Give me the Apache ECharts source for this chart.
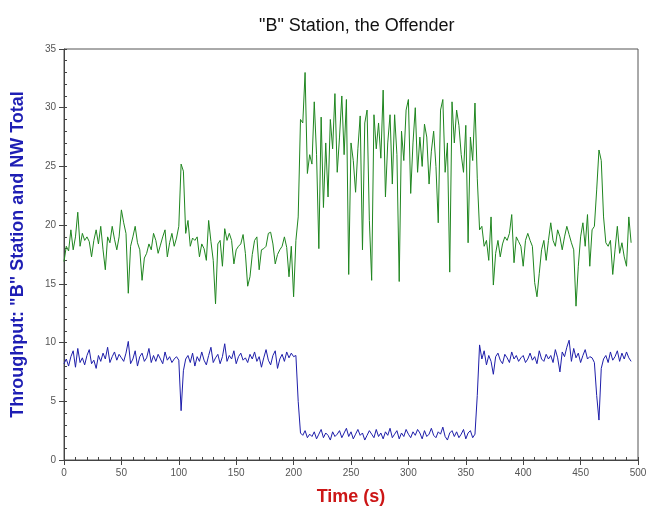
<!DOCTYPE html>
<html>
<head>
<meta charset="utf-8">
<script src="https://cdn.jsdelivr.net/npm/echarts@6/dist/echarts.min.js"></script>
<style>
html,body{margin:0;padding:0;background:#fff;}
#chart{width:651px;height:513px;}
</style>
</head>
<body>
<div id="chart"></div>
<script>
// Time (s)
var timeSec = [
  0,2,4,6,8,10,12,14,16,18,
  20,22,24,26,28,30,32,34,36,38,
  40,42,44,46,48,50,52,54,56,58,
  60,62,64,66,68,70,72,74,76,78,
  80,82,84,86,88,90,92,94,96,98,
  100,102,104,106,108,110,112,114,116,118,
  120,122,124,126,128,130,132,134,136,138,
  140,142,144,146,148,150,152,154,156,158,
  160,162,164,166,168,170,172,174,176,178,
  180,182,184,186,188,190,192,194,196,198,
  200,202,204,206,208,210,212,214,216,218,
  220,222,224,226,228,230,232,234,236,238,
  240,242,244,246,248,250,252,254,256,258,
  260,262,264,266,268,270,272,274,276,278,
  280,282,284,286,288,290,292,294,296,298,
  300,302,304,306,308,310,312,314,316,318,
  320,322,324,326,328,330,332,334,336,338,
  340,342,344,346,348,350,352,354,356,358,
  360,362,364,366,368,370,372,374,376,378,
  380,382,384,386,388,390,392,394,396,398,
  400,402,404,406,408,410,412,414,416,418,
  420,422,424,426,428,430,432,434,436,438,
  440,442,444,446,448,450,452,454,456,458,
  460,462,464,466,468,470,472,474,476,478,
  480,482,484,486,488,490,492,494
];

// NW Total throughput (green)
var nwTotal = [
  16.9,18.2,17.8,19.6,17.9,19.0,21.1,18.2,19.3,18.7,
  19.0,18.6,17.3,18.7,19.6,18.4,19.9,17.9,16.2,19.0,
  18.5,19.9,18.8,17.9,19.0,21.3,20.2,19.3,14.2,18.2,
  19.0,19.9,18.5,17.9,15.3,17.2,17.6,18.4,17.9,19.3,
  18.7,17.6,18.3,19.0,19.6,17.3,18.5,19.3,18.2,18.9,
  19.9,25.2,24.6,19.3,20.4,18.2,18.9,18.7,19.0,17.3,
  18.4,18.0,17.0,20.4,18.6,17.0,13.3,18.4,18.7,16.5,
  19.7,18.7,19.3,18.7,16.7,17.9,18.2,18.4,19.2,17.6,
  14.8,15.6,17.5,18.7,19.0,16.2,17.9,18.0,18.2,19.3,
  19.4,18.4,16.7,17.5,17.9,18.2,19.0,18.1,15.6,18.2,
  13.9,18.7,20.7,29.0,28.7,33.0,24.4,26.0,25.2,30.5,
  26.0,18.0,29.2,21.5,27.0,22.4,29.0,26.5,31.2,24.5,
  27.5,31.0,26.0,30.7,15.8,27.0,25.5,22.8,26.5,29.3,
  17.9,28.7,29.8,20.4,15.3,29.4,26.5,28.7,25.7,31.5,
  22.4,27.0,29.4,23.5,29.4,26.0,15.2,28.0,25.5,29.8,
  30.7,22.7,27.0,30.0,24.5,27.5,25.0,28.6,27.5,23.5,
  26.3,28.0,25.0,20.2,29.8,30.7,24.5,27.0,16.0,30.5,
  27.0,29.8,28.5,26.0,24.5,28.5,18.5,27.5,25.5,30.4,
  24.0,19.6,19.9,18.2,18.7,17.0,20.7,14.9,17.6,18.7,
  17.3,18.4,19.0,18.7,19.3,20.9,16.8,19.0,18.6,18.2,
  16.5,18.7,19.3,18.7,18.2,15.1,13.9,15.9,17.9,18.7,
  17.0,18.7,20.2,18.7,18.2,19.6,19.0,17.9,19.0,19.9,
  19.2,18.5,17.9,13.1,16.5,19.0,20.2,18.2,20.9,16.5,
  19.6,19.9,23.0,26.4,25.5,20.7,18.5,18.2,18.7,15.8,
  17.9,19.9,17.6,18.5,17.3,16.5,20.7,18.5
];

// "B" Station throughput (blue)
var bStation = [
  8.2,8.6,8.0,8.8,9.3,7.9,9.5,8.3,8.7,8.1,
  8.9,9.4,8.2,8.5,7.8,8.9,8.4,9.1,8.6,9.6,
  8.3,8.8,9.2,8.5,9.0,8.7,8.4,9.1,10.1,8.2,
  8.6,9.3,8.0,8.8,9.1,8.4,8.7,9.5,8.3,8.9,
  8.4,9.0,8.6,8.2,9.2,8.5,8.8,8.3,8.6,8.8,
  8.5,4.2,7.6,8.6,8.9,8.3,9.1,8.0,8.8,8.4,
  9.2,8.5,8.1,8.9,9.6,8.3,8.7,9.0,8.2,8.8,
  9.9,8.4,8.9,8.6,9.3,8.2,8.8,9.1,8.5,8.7,
  8.3,9.0,8.6,9.2,8.4,8.8,7.9,8.7,9.4,8.5,
  8.1,8.9,9.3,7.8,8.6,9.0,8.4,9.2,8.7,9.1,
  8.8,8.9,5.0,2.3,2.1,2.5,1.9,2.2,2.0,2.4,
  1.8,2.2,2.6,1.9,2.3,2.1,1.7,2.4,2.0,2.2,
  2.5,1.9,2.3,2.7,2.0,2.4,1.8,2.2,2.6,2.1,
  2.3,1.7,2.1,2.5,2.2,1.9,2.6,2.0,2.3,1.8,
  2.4,2.1,2.7,1.9,2.2,2.5,1.8,2.3,2.0,2.6,
  2.2,1.9,2.4,2.1,2.6,2.3,1.8,2.5,2.0,2.2,
  2.7,2.1,1.9,2.4,2.2,2.8,2.0,1.7,2.3,2.5,
  2.0,2.4,1.9,2.2,2.6,1.8,2.3,2.5,1.9,2.2,
  5.5,9.8,8.6,9.3,8.1,8.9,8.4,7.3,8.8,9.1,
  8.5,8.2,9.0,8.7,8.3,9.2,8.6,8.9,8.4,8.7,
  8.9,8.3,8.6,9.1,8.5,8.8,8.2,9.3,8.6,8.4,
  9.0,8.6,8.9,8.3,9.4,8.7,7.5,9.2,8.8,9.6,
  10.2,8.4,9.5,8.7,9.1,8.3,8.9,9.4,8.6,8.8,
  8.7,8.3,5.5,3.4,7.8,8.6,8.9,8.3,9.2,8.5,
  8.8,9.3,8.4,9.1,8.6,9.2,8.7,8.4
];

var xTickLabels = [0,50,100,150,200,250,300,350,400,450,500];
var yTickLabels = [0,5,10,15,20,25,30,35];

function pairs(xs, ys){ var out=[]; for (var i=0;i<ys.length;i++){ out.push([xs[i], ys[i]]); } return out; }

var FONT = '"Liberation Sans", Arial, sans-serif';
var chart = echarts.init(document.getElementById('chart'), null, {renderer:'canvas'});
var axisColor = '#444';
chart.setOption({
  animation: false,
  backgroundColor: '#ffffff',
  title: {
    text: '"B" Station, the Offender',
    left: 254, top: 12,
    textStyle: {fontFamily: FONT, fontSize: 18, fontWeight: 'normal', color: '#111'}
  },
  grid: {left: 64, top: 49, width: 574, height: 411, show: true, borderColor: '#555', borderWidth: 1, backgroundColor: 'transparent'},
  xAxis: [
    {
      type: 'value', min: xTickLabels[0], max: xTickLabels[xTickLabels.length-1], interval: 50,
      name: 'Time (s)', nameLocation: 'middle', nameGap: 28,
      nameTextStyle: {fontFamily: FONT, fontSize: 18, fontWeight: 'bold', color: '#cc1616'},
      axisLine: {show: true, lineStyle: {color: axisColor, width: 1}},
      axisTick: {show: true, inside: false, length: 5, lineStyle: {color: axisColor}},
      axisLabel: {fontFamily: FONT, fontSize: 10, color: '#555', margin: 8},
      splitLine: {show: false}
    },
    {
      type: 'value', min: 0, max: 500, interval: 10, position: 'bottom',
      axisLine: {show: false},
      axisTick: {show: true, inside: true, length: 3, lineStyle: {color: axisColor}},
      axisLabel: {show: false},
      splitLine: {show: false}
    }
  ],
  yAxis: [
    {
      type: 'value', min: yTickLabels[0], max: yTickLabels[yTickLabels.length-1], interval: 5,
      name: 'Throughput: "B" Station and NW Total', nameLocation: 'middle', nameGap: 37,
      nameTextStyle: {fontFamily: FONT, fontSize: 18, fontWeight: 'bold', color: '#1e1eb4'},
      axisLine: {show: true, lineStyle: {color: axisColor, width: 1}},
      axisTick: {show: true, inside: false, length: 5, lineStyle: {color: axisColor}},
      axisLabel: {fontFamily: FONT, fontSize: 10, color: '#555', margin: 8},
      splitLine: {show: false}
    },
    {
      type: 'value', min: 0, max: 35, interval: 1, position: 'left',
      axisLine: {show: false},
      axisTick: {show: true, inside: true, length: 3, lineStyle: {color: axisColor}},
      axisLabel: {show: false},
      splitLine: {show: false}
    }
  ],
  series: [
    {
      name: 'NW Total', type: 'line', xAxisIndex: 0, yAxisIndex: 0,
      data: pairs(timeSec, nwTotal), showSymbol: false, symbol: 'none',
      lineStyle: {color: '#1f861f', width: 1}, silent: true
    },
    {
      name: '"B" Station', type: 'line', xAxisIndex: 0, yAxisIndex: 0,
      data: pairs(timeSec, bStation), showSymbol: false, symbol: 'none',
      lineStyle: {color: '#1e1eaa', width: 1}, silent: true
    }
  ]
});
</script>
</body>
</html>
